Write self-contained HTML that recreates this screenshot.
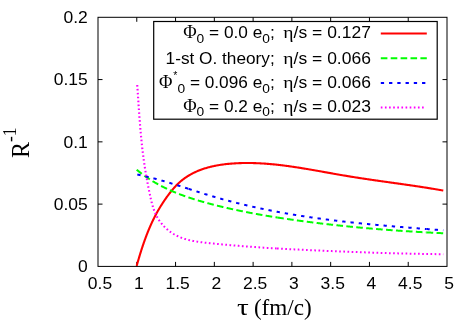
<!DOCTYPE html>
<html><head><meta charset="utf-8"><style>html,body{margin:0;padding:0;background:#fff;}body{width:463px;height:322px;overflow:hidden;position:relative;font-family:"Liberation Sans",sans-serif;}</style></head><body>
<svg width="463" height="322" viewBox="0 0 463 322" style="position:absolute;left:0;top:0;will-change:transform">
<rect width="463" height="322" fill="#fff"/>
<g stroke="#000" stroke-width="1" fill="none">
<rect x="98.0" y="17.3" width="349.0" height="249.1"/>
<path d="M136.78,266.4 v-4.5 M136.78,17.3 v4.5"/>
<path d="M175.56,266.4 v-4.5 M175.56,17.3 v4.5"/>
<path d="M214.33,266.4 v-4.5 M214.33,17.3 v4.5"/>
<path d="M253.11,266.4 v-4.5 M253.11,17.3 v4.5"/>
<path d="M291.89,266.4 v-4.5 M291.89,17.3 v4.5"/>
<path d="M330.67,266.4 v-4.5 M330.67,17.3 v4.5"/>
<path d="M369.44,266.4 v-4.5 M369.44,17.3 v4.5"/>
<path d="M408.22,266.4 v-4.5 M408.22,17.3 v4.5"/>
<path d="M98.0,204.12 h4.5 M447.0,204.12 h-4.5"/>
<path d="M98.0,141.85 h4.5 M447.0,141.85 h-4.5"/>
<path d="M98.0,79.57 h4.5 M447.0,79.57 h-4.5"/>
</g>
<path d="M136.68,265.83 L136.88,265.12 L137.08,264.41 L137.29,263.70 L137.49,262.99 L137.69,262.28 L137.90,261.57 L138.10,260.86 L138.31,260.16 L138.51,259.45 L138.72,258.74 L138.93,258.03 L139.14,257.33 L139.35,256.62 L139.56,255.92 L139.77,255.22 L139.99,254.51 L140.20,253.81 L140.42,253.11 L140.64,252.41 L140.86,251.71 L141.08,251.01 L141.30,250.31 L141.52,249.61 L141.75,248.91 L141.97,248.22 L142.20,247.52 L142.43,246.83 L142.66,246.13 L142.89,245.44 L143.12,244.75 L143.36,244.06 L143.60,243.36 L143.84,242.67 L144.08,241.99 L144.32,241.30 L144.56,240.61 L144.81,239.92 L145.06,239.24 L145.31,238.55 L145.56,237.87 L145.81,237.19 L146.07,236.51 L146.32,235.83 L146.58,235.15 L146.85,234.47 L147.11,233.79 L147.38,233.11 L147.64,232.44 L147.92,231.76 L148.19,231.09 L148.46,230.42 L148.74,229.75 L149.02,229.08 L149.30,228.41 L149.59,227.74 L149.87,227.08 L150.16,226.41 L150.46,225.75 L150.75,225.08 L151.05,224.42 L151.35,223.76 L151.65,223.10 L151.95,222.44 L152.26,221.79 L152.57,221.13 L152.89,220.48 L153.20,219.82 L153.52,219.17 L153.84,218.52 L154.17,217.87 L154.50,217.23 L154.83,216.58 L155.16,215.94 L155.50,215.29 L155.84,214.65 L156.18,214.01 L156.53,213.37 L156.88,212.73 L157.23,212.10 L157.58,211.46 L157.94,210.83 L158.30,210.20 L158.67,209.56 L159.04,208.94 L159.41,208.31 L159.79,207.68 L160.16,207.06 L160.55,206.43 L160.93,205.81 L161.32,205.19 L161.71,204.57 L162.11,203.95 L162.50,203.33 L162.91,202.71 L163.31,202.10 L163.72,201.48 L164.13,200.87 L164.55,200.26 L164.97,199.65 L165.39,199.04 L165.82,198.43 L166.25,197.83 L166.68,197.22 L167.12,196.62 L167.56,196.01 L168.01,195.41 L168.46,194.81 L168.91,194.21 L169.37,193.61 L169.83,193.02 L170.29,192.42 L170.76,191.83 L171.23,191.24 L171.70,190.65 L172.18,190.07 L172.67,189.49 L173.16,188.92 L173.65,188.35 L174.15,187.79 L174.65,187.23 L175.15,186.67 L175.66,186.13 L176.18,185.59 L176.70,185.05 L177.22,184.53 L177.75,184.01 L178.28,183.49 L178.82,182.99 L179.36,182.50 L179.91,182.01 L180.46,181.53 L181.02,181.06 L181.58,180.60 L182.15,180.14 L182.72,179.69 L183.29,179.25 L183.87,178.82 L184.46,178.39 L185.04,177.97 L185.64,177.56 L186.23,177.16 L186.83,176.76 L187.43,176.38 L188.04,175.99 L188.65,175.62 L189.27,175.25 L189.89,174.89 L190.51,174.54 L191.13,174.19 L191.76,173.85 L192.40,173.52 L193.03,173.19 L193.67,172.87 L194.32,172.55 L194.96,172.25 L195.61,171.95 L196.26,171.65 L196.92,171.36 L197.58,171.08 L198.24,170.80 L198.91,170.53 L199.57,170.27 L200.24,170.01 L200.92,169.76 L201.59,169.51 L202.27,169.27 L202.95,169.04 L203.63,168.81 L204.32,168.58 L205.01,168.37 L205.70,168.15 L206.39,167.94 L207.09,167.74 L207.78,167.55 L208.48,167.35 L209.18,167.17 L209.89,166.99 L210.59,166.81 L211.30,166.64 L212.01,166.47 L212.72,166.31 L213.43,166.15 L214.14,166.00 L214.86,165.85 L215.58,165.71 L216.29,165.57 L217.01,165.43 L217.74,165.31 L218.46,165.18 L219.18,165.06 L219.91,164.94 L220.63,164.83 L221.36,164.72 L222.09,164.61 L222.82,164.51 L223.55,164.42 L224.28,164.32 L225.01,164.23 L225.74,164.15 L226.47,164.06 L227.21,163.99 L227.94,163.91 L228.68,163.84 L229.41,163.77 L230.15,163.71 L230.88,163.64 L231.62,163.59 L232.35,163.53 L233.09,163.48 L233.82,163.43 L234.56,163.38 L235.30,163.34 L236.03,163.30 L236.77,163.26 L237.50,163.23 L238.24,163.19 L238.97,163.16 L239.71,163.14 L240.44,163.11 L241.18,163.09 L241.91,163.07 L242.65,163.05 L243.38,163.04 L244.12,163.03 L244.85,163.02 L245.58,163.01 L246.32,163.01 L247.05,163.00 L247.78,163.00 L248.51,163.01 L249.25,163.01 L249.98,163.02 L250.71,163.03 L251.44,163.04 L252.17,163.05 L252.90,163.07 L253.64,163.09 L254.37,163.11 L255.10,163.13 L255.83,163.16 L256.56,163.19 L257.29,163.21 L258.02,163.25 L258.75,163.28 L259.48,163.31 L260.21,163.35 L260.94,163.39 L261.67,163.43 L262.40,163.48 L263.13,163.52 L263.86,163.57 L264.58,163.62 L265.31,163.67 L266.04,163.72 L266.77,163.78 L267.50,163.83 L268.23,163.89 L268.95,163.95 L269.68,164.01 L270.41,164.08 L271.14,164.14 L271.86,164.21 L272.59,164.28 L273.32,164.35 L274.04,164.42 L274.77,164.49 L275.50,164.57 L276.22,164.64 L276.95,164.72 L277.68,164.80 L278.40,164.88 L279.13,164.96 L279.86,165.05 L280.58,165.13 L281.31,165.22 L282.03,165.31 L282.76,165.40 L283.48,165.49 L284.21,165.58 L284.93,165.67 L285.66,165.77 L286.38,165.86 L287.11,165.96 L287.83,166.06 L288.56,166.16 L289.28,166.26 L290.01,166.36 L290.73,166.46 L291.45,166.56 L292.18,166.67 L292.90,166.77 L293.63,166.88 L294.35,166.99 L295.07,167.10 L295.80,167.21 L296.52,167.32 L297.24,167.43 L297.97,167.54 L298.69,167.65 L299.41,167.77 L300.14,167.88 L300.86,168.00 L301.58,168.11 L302.31,168.23 L303.03,168.35 L303.75,168.47 L304.48,168.59 L305.20,168.71 L305.92,168.83 L306.64,168.95 L307.37,169.07 L308.09,169.19 L308.81,169.31 L309.53,169.44 L310.26,169.56 L310.98,169.68 L311.70,169.81 L312.42,169.93 L313.15,170.06 L313.87,170.19 L314.59,170.31 L315.31,170.44 L316.03,170.57 L316.76,170.69 L317.48,170.82 L318.20,170.95 L318.92,171.08 L319.64,171.21 L320.37,171.33 L321.09,171.46 L321.81,171.59 L322.53,171.72 L323.25,171.85 L323.98,171.98 L324.70,172.11 L325.42,172.24 L326.14,172.37 L326.86,172.50 L327.58,172.62 L328.31,172.75 L329.03,172.88 L329.75,173.01 L330.47,173.14 L331.19,173.27 L331.92,173.40 L332.64,173.53 L333.36,173.66 L334.08,173.78 L334.80,173.91 L335.52,174.04 L336.25,174.17 L336.97,174.29 L337.69,174.42 L338.41,174.55 L339.13,174.67 L339.86,174.80 L340.58,174.92 L341.30,175.05 L342.02,175.17 L342.74,175.30 L343.47,175.42 L344.19,175.54 L344.91,175.66 L345.63,175.79 L346.35,175.91 L347.08,176.03 L347.80,176.15 L348.52,176.27 L349.24,176.39 L349.97,176.50 L350.69,176.62 L351.41,176.74 L352.13,176.85 L352.86,176.97 L353.58,177.08 L354.30,177.20 L355.02,177.31 L355.75,177.43 L356.47,177.54 L357.19,177.65 L357.91,177.76 L358.64,177.88 L359.36,177.99 L360.08,178.10 L360.81,178.21 L361.53,178.32 L362.25,178.43 L362.98,178.54 L363.70,178.65 L364.42,178.75 L365.14,178.86 L365.87,178.97 L366.59,179.08 L367.31,179.18 L368.04,179.29 L368.76,179.40 L369.48,179.50 L370.21,179.61 L370.93,179.71 L371.65,179.82 L372.38,179.92 L373.10,180.03 L373.82,180.13 L374.55,180.24 L375.27,180.34 L375.99,180.44 L376.72,180.55 L377.44,180.65 L378.16,180.75 L378.89,180.86 L379.61,180.96 L380.33,181.06 L381.06,181.17 L381.78,181.27 L382.51,181.37 L383.23,181.47 L383.95,181.57 L384.68,181.68 L385.40,181.78 L386.12,181.88 L386.85,181.98 L387.57,182.08 L388.30,182.18 L389.02,182.28 L389.74,182.39 L390.47,182.49 L391.19,182.59 L391.91,182.69 L392.64,182.79 L393.36,182.89 L394.09,183.00 L394.81,183.10 L395.53,183.20 L396.26,183.30 L396.98,183.40 L397.70,183.50 L398.43,183.61 L399.15,183.71 L399.88,183.81 L400.60,183.91 L401.32,184.01 L402.05,184.12 L402.77,184.22 L403.50,184.32 L404.22,184.43 L404.94,184.53 L405.67,184.63 L406.39,184.74 L407.12,184.84 L407.84,184.95 L408.56,185.05 L409.29,185.16 L410.01,185.26 L410.73,185.37 L411.46,185.47 L412.18,185.58 L412.91,185.68 L413.63,185.79 L414.35,185.90 L415.08,186.00 L415.80,186.11 L416.53,186.22 L417.25,186.33 L417.97,186.44 L418.70,186.55 L419.42,186.65 L420.14,186.76 L420.87,186.88 L421.59,186.99 L422.32,187.10 L423.04,187.21 L423.76,187.32 L424.49,187.43 L425.21,187.55 L425.93,187.66 L426.66,187.77 L427.38,187.89 L428.11,188.00 L428.83,188.12 L429.55,188.24 L430.28,188.35 L431.00,188.47 L431.72,188.59 L432.45,188.71 L433.17,188.83 L433.89,188.94 L434.62,189.07 L435.34,189.19 L436.06,189.31 L436.79,189.43 L437.51,189.55 L438.23,189.68 L438.96,189.80 L439.68,189.93 L440.40,190.05 L441.13,190.18 L441.85,190.30 L442.57,190.43 L443.30,190.56" fill="none" stroke="#ff0000" stroke-width="2.1" stroke-linejoin="round"/>
<g transform="scale(1.06,1)" fill="none" stroke-width="2">
<path d="M128.97,169.72 L129.26,169.98 L129.55,170.24 L129.85,170.50 L130.15,170.76 L130.44,171.01 L130.74,171.27 L131.04,171.52 L131.33,171.77 L131.63,172.02 L131.93,172.27 L132.23,172.52 L132.53,172.77 L132.83,173.01 L133.13,173.26 L133.43,173.50 L133.74,173.75 L134.04,173.99 L134.34,174.23 L134.65,174.47 L134.95,174.71 L135.26,174.94 L135.56,175.18 L135.87,175.41 L136.17,175.65 L136.48,175.88 L136.79,176.11 L137.10,176.34 L137.40,176.57 L137.71,176.80 L138.02,177.02 L138.33,177.25 L138.64,177.47 L138.95,177.70 L139.27,177.92 L139.58,178.14 L139.89,178.36 L140.20,178.58 L140.52,178.80 L140.83,179.02 L141.15,179.23 L141.46,179.45 L141.78,179.66 L142.09,179.87 L142.41,180.08 L142.73,180.30 L143.04,180.51 L143.36,180.71 L143.68,180.92 L144.00,181.13 L144.32,181.33 L144.64,181.54 L144.96,181.74 L145.28,181.94 L145.60,182.15 L145.92,182.35 L146.24,182.55 L146.57,182.74 L146.89,182.94 L147.21,183.14 L147.53,183.33 L147.86,183.53 L148.18,183.72 L148.51,183.91 L148.83,184.11 L149.16,184.30 L149.49,184.49 L149.81,184.68 L150.14,184.86 L150.47,185.05 L150.80,185.24 L151.12,185.42 L151.45,185.61 L151.78,185.79 L152.11,185.97 L152.44,186.15 L152.77,186.33 L153.10,186.51 L153.43,186.69 L153.77,186.87 L154.10,187.05 L154.43,187.22 L154.76,187.40 L155.10,187.57 L155.43,187.75 L155.76,187.92 L156.10,188.09 L156.43,188.26 L156.77,188.43 L157.10,188.60 L157.44,188.77 L157.77,188.94 L158.11,189.11 L158.45,189.27 L158.79,189.44 L159.12,189.60 L159.46,189.76 L159.80,189.93 L160.14,190.09 L160.48,190.25 L160.82,190.41 L161.16,190.57 L161.50,190.73 L161.84,190.89 L162.18,191.04 L162.52,191.20 L162.86,191.36 L163.20,191.51 L163.54,191.67 L163.88,191.82 L164.23,191.97 L164.57,192.12 L164.91,192.27 L165.26,192.42 L165.60,192.57 L165.94,192.72 L166.29,192.87 L166.63,193.02 L166.98,193.17 L167.32,193.31 L167.67,193.46 L168.02,193.60 L168.36,193.75 L168.71,193.89 L169.06,194.03 L169.40,194.17 L169.75,194.31 L170.10,194.46 L170.45,194.60 L170.79,194.73 L171.14,194.87 L171.49,195.01 L171.84,195.15 L172.19,195.29 L172.54,195.42 L172.89,195.56 L173.24,195.69 L173.59,195.83 L173.94,195.96 L174.29,196.09 L174.64,196.22 L174.99,196.36 L175.34,196.49 L175.70,196.62 L176.05,196.75 L176.40,196.88 L176.75,197.00 L177.10,197.13 L177.46,197.26 L177.81,197.39 L178.16,197.51 L178.52,197.64 L178.87,197.76 L179.23,197.89 L179.58,198.01 L179.93,198.14 L180.29,198.26 L180.64,198.38 L181.00,198.50 L181.35,198.63 L181.71,198.75 L182.06,198.87 L182.42,198.99 L182.78,199.11 L183.13,199.22 L183.49,199.34 L183.85,199.46 L184.20,199.58 L184.56,199.70 L184.92,199.81 L185.27,199.93 L185.63,200.04 L185.99,200.16 L186.35,200.27 L186.71,200.39 L187.06,200.50 L187.42,200.61 L187.78,200.73 L188.14,200.84 L188.50,200.95 L188.86,201.06 L189.22,201.17 L189.58,201.28 L189.93,201.39 L190.29,201.50 L190.65,201.61 L191.01,201.72 L191.37,201.83 L191.73,201.94 L192.09,202.04 L192.45,202.15 L192.81,202.26 L193.18,202.37 L193.54,202.47 L193.90,202.58 L194.26,202.68 L194.62,202.79 L194.98,202.89 L195.34,203.00 L195.70,203.10 L196.06,203.20 L196.43,203.31 L196.79,203.41 L197.15,203.51 L197.51,203.61 L197.87,203.72 L198.24,203.82 L198.60,203.92 L198.96,204.02 L199.32,204.12 L199.68,204.22 L200.05,204.32 L200.41,204.42 L200.77,204.52 L201.14,204.62 L201.50,204.72 L201.86,204.82 L202.22,204.92 L202.59,205.01 L202.95,205.11 L203.31,205.21 L203.68,205.31 L204.04,205.40 L204.40,205.50 L204.77,205.60 L205.13,205.69 L205.49,205.79 L205.86,205.88 L206.22,205.98 L206.59,206.07 L206.95,206.17 L207.31,206.26 L207.68,206.36 L208.04,206.45 L208.41,206.54 L208.77,206.64 L209.14,206.73 L209.50,206.82 L209.86,206.91 L210.23,207.00 L210.59,207.10 L210.96,207.19 L211.32,207.28 L211.69,207.37 L212.05,207.46 L212.42,207.55 L212.78,207.64 L213.15,207.73 L213.51,207.82 L213.88,207.91 L214.25,208.00 L214.61,208.09 L214.98,208.18 L215.34,208.26 L215.71,208.35 L216.07,208.44 L216.44,208.53 L216.80,208.61 L217.17,208.70 L217.54,208.79 L217.90,208.87 L218.27,208.96 L218.64,209.04 L219.00,209.13 L219.37,209.22 L219.73,209.30 L220.10,209.39 L220.47,209.47 L220.83,209.55 L221.20,209.64 L221.57,209.72 L221.93,209.81 L222.30,209.89 L222.67,209.97 L223.03,210.05 L223.40,210.14 L223.77,210.22 L224.14,210.30 L224.50,210.38 L224.87,210.46 L225.24,210.55 L225.60,210.63 L225.97,210.71 L226.34,210.79 L226.71,210.87 L227.07,210.95 L227.44,211.03 L227.81,211.11 L228.18,211.19 L228.54,211.27 L228.91,211.34 L229.28,211.42 L229.65,211.50 L230.02,211.58 L230.38,211.66 L230.75,211.74 L231.12,211.81 L231.49,211.89 L231.86,211.97 L232.22,212.04 L232.59,212.12 L232.96,212.20 L233.33,212.27 L233.70,212.35 L234.07,212.42 L234.43,212.50 L234.80,212.57 L235.17,212.65 L235.54,212.72 L235.91,212.80 L236.28,212.87 L236.65,212.95 L237.02,213.02 L237.38,213.09 L237.75,213.17 L238.12,213.24 L238.49,213.31 L238.86,213.39 L239.23,213.46 L239.60,213.53 L239.97,213.60 L240.34,213.68 L240.71,213.75 L241.07,213.82 L241.44,213.89 L241.81,213.96 L242.18,214.03 L242.55,214.10 L242.92,214.17 L243.29,214.25 L243.66,214.32 L244.03,214.39 L244.40,214.45 L244.77,214.52 L245.14,214.59 L245.51,214.66 L245.88,214.73 L246.25,214.80 L246.62,214.87 L246.99,214.94 L247.36,215.01 L247.73,215.07 L248.10,215.14 L248.47,215.21 L248.84,215.28 L249.21,215.34 L249.58,215.41 L249.95,215.48 L250.32,215.54 L250.69,215.61 L251.06,215.68 L251.43,215.74 L251.80,215.81 L252.17,215.87 L252.54,215.94 L252.91,216.01 L253.28,216.07 L253.65,216.14 L254.02,216.20 L254.39,216.27 L254.76,216.33 L255.13,216.39 L255.50,216.46 L255.87,216.52 L256.24,216.59 L256.61,216.65 L256.98,216.71 L257.35,216.78 L257.72,216.84 L258.09,216.90 L258.46,216.97 L258.83,217.03 L259.21,217.09 L259.58,217.15 L259.95,217.21 L260.32,217.28 L260.69,217.34 L261.06,217.40 L261.43,217.46 L261.51,217.47" stroke="#00ff00" stroke-dasharray="6.268 3.134" stroke-dashoffset="0.00"/>
<path d="M261.51,217.47 L261.80,217.52 L262.17,217.58 L262.54,217.65 L262.91,217.71 L263.28,217.77 L263.65,217.83 L264.02,217.89 L264.40,217.95 L264.77,218.01 L265.14,218.07 L265.51,218.13 L265.88,218.19 L266.25,218.25 L266.62,218.31 L266.99,218.37 L267.36,218.42 L267.73,218.48 L268.10,218.54 L268.48,218.60 L268.85,218.66 L269.22,218.72 L269.59,218.78 L269.96,218.83 L270.33,218.89 L270.70,218.95 L271.07,219.01 L271.44,219.06 L271.81,219.12 L272.18,219.18 L272.56,219.24 L272.93,219.29 L273.30,219.35 L273.67,219.41 L274.04,219.46 L274.41,219.52 L274.78,219.58 L275.15,219.63 L275.52,219.69 L275.90,219.74 L276.27,219.80 L276.64,219.85 L277.01,219.91 L277.38,219.97 L277.75,220.02 L278.12,220.08 L278.49,220.13 L278.86,220.19 L279.23,220.24 L279.61,220.29 L279.98,220.35 L280.35,220.40 L280.72,220.46 L281.09,220.51 L281.46,220.57 L281.83,220.62 L282.20,220.67 L282.57,220.73 L282.95,220.78 L283.32,220.83 L283.69,220.89 L284.06,220.94 L284.43,220.99 L284.80,221.05 L285.17,221.10 L285.54,221.15 L285.91,221.20 L286.28,221.26 L286.66,221.31 L287.03,221.36 L287.40,221.41 L287.77,221.46 L288.14,221.52 L288.51,221.57 L288.88,221.62 L289.25,221.67 L289.62,221.72 L290.00,221.77 L290.37,221.82 L290.74,221.88 L291.11,221.93 L291.48,221.98 L291.85,222.03 L292.22,222.08 L292.59,222.13 L292.96,222.18 L293.34,222.23 L293.71,222.28 L294.08,222.33 L294.45,222.38 L294.82,222.43 L295.19,222.48 L295.56,222.53 L295.93,222.58 L296.31,222.63 L296.68,222.67 L297.05,222.72 L297.42,222.77 L297.79,222.82 L298.16,222.87 L298.53,222.92 L298.90,222.97 L299.27,223.01 L299.65,223.06 L300.02,223.11 L300.39,223.16 L300.76,223.21 L301.13,223.25 L301.50,223.30 L301.87,223.35 L302.24,223.39 L302.62,223.44 L302.99,223.49 L303.36,223.54 L303.73,223.58 L304.10,223.63 L304.47,223.68 L304.84,223.72 L305.21,223.77 L305.59,223.81 L305.96,223.86 L306.33,223.91 L306.70,223.95 L307.07,224.00 L307.44,224.04 L307.81,224.09 L308.19,224.13 L308.56,224.18 L308.93,224.23 L309.30,224.27 L309.67,224.32 L310.04,224.36 L310.41,224.40 L310.79,224.45 L311.16,224.49 L311.53,224.54 L311.90,224.58 L312.27,224.63 L312.64,224.67 L313.01,224.71 L313.39,224.76 L313.76,224.80 L314.13,224.85 L314.50,224.89 L314.87,224.93 L315.24,224.98 L315.61,225.02 L315.99,225.06 L316.36,225.11 L316.73,225.15 L317.10,225.19 L317.47,225.23 L317.84,225.28 L318.21,225.32 L318.59,225.36 L318.96,225.40 L319.33,225.44 L319.70,225.49 L320.07,225.53 L320.44,225.57 L320.82,225.61 L321.19,225.65 L321.56,225.69 L321.93,225.74 L322.30,225.78 L322.67,225.82 L323.05,225.86 L323.42,225.90 L323.79,225.94 L324.16,225.98 L324.53,226.02 L324.90,226.06 L325.28,226.10 L325.65,226.14 L326.02,226.18 L326.39,226.22 L326.76,226.26 L327.13,226.30 L327.51,226.34 L327.88,226.38 L328.25,226.42 L328.62,226.46 L328.99,226.50 L329.36,226.54 L329.74,226.58 L330.11,226.62 L330.48,226.66 L330.85,226.70 L331.22,226.73 L331.60,226.77 L331.97,226.81 L332.34,226.85 L332.71,226.89 L333.08,226.93 L333.46,226.96 L333.83,227.00 L334.20,227.04 L334.57,227.08 L334.94,227.12 L335.32,227.15 L335.69,227.19 L336.06,227.23 L336.43,227.26 L336.80,227.30 L337.18,227.34 L337.55,227.38 L337.92,227.41 L338.29,227.45 L338.66,227.49 L339.04,227.52 L339.41,227.56 L339.78,227.60 L340.15,227.63 L340.52,227.67 L340.90,227.70 L341.27,227.74 L341.64,227.78 L342.01,227.81 L342.39,227.85 L342.76,227.88 L343.13,227.92 L343.50,227.95 L343.87,227.99 L344.25,228.02 L344.62,228.06 L344.99,228.09 L345.36,228.13 L345.74,228.16 L346.11,228.20 L346.48,228.23 L346.85,228.27 L347.22,228.30 L347.60,228.33 L347.97,228.37 L348.34,228.40 L348.71,228.44 L349.09,228.47 L349.46,228.50 L349.83,228.54 L350.20,228.57 L350.58,228.61 L350.95,228.64 L351.32,228.67 L351.69,228.71 L352.07,228.74 L352.44,228.77 L352.81,228.80 L353.18,228.84 L353.56,228.87 L353.93,228.90 L354.30,228.93 L354.67,228.97 L355.05,229.00 L355.42,229.03 L355.79,229.06 L356.17,229.10 L356.54,229.13 L356.91,229.16 L357.28,229.19 L357.66,229.22 L358.03,229.25 L358.40,229.29 L358.77,229.32 L359.15,229.35 L359.52,229.38 L359.89,229.41 L360.27,229.44 L360.64,229.47 L361.01,229.50 L361.38,229.54 L361.76,229.57 L362.13,229.60 L362.50,229.63 L362.88,229.66 L363.25,229.69 L363.62,229.72 L363.99,229.75 L364.37,229.78 L364.74,229.81 L365.11,229.84 L365.49,229.87 L365.86,229.90 L366.23,229.93 L366.61,229.96 L366.98,229.99 L367.35,230.02 L367.73,230.04 L368.10,230.07 L368.47,230.10 L368.85,230.13 L369.22,230.16 L369.59,230.19 L369.96,230.22 L370.34,230.25 L370.71,230.28 L371.08,230.30 L371.46,230.33 L371.83,230.36 L372.20,230.39 L372.58,230.42 L372.95,230.44 L373.32,230.47 L373.70,230.50 L374.07,230.53 L374.44,230.56 L374.82,230.58 L375.19,230.61 L375.57,230.64 L375.94,230.67 L376.31,230.69 L376.69,230.72 L377.06,230.75 L377.43,230.77 L377.81,230.80 L378.18,230.83 L378.55,230.85 L378.93,230.88 L379.30,230.91 L379.68,230.93 L380.05,230.96 L380.42,230.99 L380.80,231.01 L381.17,231.04 L381.54,231.07 L381.92,231.09 L382.29,231.12 L382.67,231.14 L383.04,231.17 L383.41,231.20 L383.79,231.22 L384.16,231.25 L384.53,231.27 L384.91,231.30 L385.28,231.32 L385.66,231.35 L386.03,231.37 L386.40,231.40 L386.78,231.42 L387.15,231.45 L387.53,231.47 L387.90,231.50 L388.28,231.52 L388.65,231.55 L389.02,231.57 L389.40,231.59 L389.77,231.62 L390.15,231.64 L390.52,231.67 L390.89,231.69 L391.27,231.72 L391.64,231.74 L392.02,231.76 L392.39,231.79 L392.77,231.81 L393.14,231.83 L393.52,231.86 L393.89,231.88 L394.26,231.90 L394.64,231.93 L395.01,231.95 L395.39,231.97 L395.76,232.00 L396.14,232.02 L396.51,232.04 L396.89,232.07 L397.26,232.09 L397.64,232.11 L398.01,232.13 L398.38,232.16 L398.76,232.18 L399.13,232.20 L399.51,232.22 L399.88,232.25 L400.26,232.27 L400.63,232.29 L401.01,232.31 L401.38,232.33 L401.76,232.36 L402.13,232.38 L402.45,232.40" stroke="#00ff00" stroke-dasharray="6.268 3.134" stroke-dashoffset="0.00"/>
<path d="M402.45,232.40 L402.51,232.40 L402.88,232.42 L403.26,232.44 L403.63,232.46 L404.01,232.49 L404.38,232.51 L404.76,232.53 L405.13,232.55 L405.51,232.57 L405.88,232.59 L406.26,232.61 L406.63,232.63 L407.01,232.65 L407.38,232.68 L407.76,232.70 L408.13,232.72 L408.51,232.74 L408.88,232.76 L409.26,232.78 L409.63,232.80 L410.01,232.82 L410.39,232.84 L410.76,232.86 L411.14,232.88 L411.51,232.90 L411.89,232.92 L412.26,232.94 L412.64,232.96 L413.01,232.98 L413.39,233.00 L413.77,233.02 L414.14,233.04 L414.52,233.06 L414.89,233.08 L415.27,233.10 L415.64,233.12 L416.02,233.13 L416.40,233.15 L416.77,233.17 L417.15,233.19 L417.52,233.21 L417.90,233.23 L418.27,233.25" stroke="#00ff00" stroke-dasharray="6.268 3.134" stroke-dashoffset="0.00"/>
<path d="M129.54,174.54 L129.90,174.61 L130.26,174.69 L130.62,174.77 L130.98,174.85 L131.34,174.93 L131.70,175.01 L132.06,175.09 L132.41,175.17 L132.77,175.25 L133.13,175.33 L133.49,175.41 L133.85,175.50 L134.21,175.58 L134.57,175.66 L134.92,175.75 L135.28,175.83 L135.64,175.92 L136.00,176.01 L136.35,176.09 L136.71,176.18 L137.07,176.27 L137.43,176.36 L137.78,176.44 L138.14,176.53 L138.50,176.62 L138.85,176.71 L139.21,176.81 L139.57,176.90 L139.92,176.99 L140.28,177.08 L140.64,177.17 L140.99,177.27 L141.35,177.36 L141.70,177.46 L142.06,177.55 L142.42,177.65 L142.77,177.74 L143.13,177.84 L143.48,177.94 L143.84,178.03 L144.19,178.13 L144.55,178.23 L144.90,178.33 L145.26,178.43 L145.61,178.53 L145.97,178.62 L146.32,178.73 L146.68,178.83 L147.03,178.93 L147.39,179.03 L147.74,179.13 L148.09,179.23 L148.45,179.33 L148.80,179.44 L149.16,179.54 L149.51,179.64 L149.87,179.75 L150.22,179.85 L150.57,179.96 L150.93,180.06 L151.28,180.17 L151.63,180.27 L151.99,180.38 L152.34,180.49 L152.69,180.59 L153.05,180.70 L153.40,180.81 L153.75,180.92 L154.11,181.03 L154.46,181.13 L154.81,181.24 L155.17,181.35 L155.52,181.46 L155.87,181.57 L156.22,181.68 L156.58,181.79 L156.93,181.90 L157.28,182.01 L157.64,182.12 L157.99,182.24 L158.34,182.35 L158.69,182.46 L159.04,182.57 L159.40,182.68 L159.75,182.80 L160.10,182.91 L160.45,183.02 L160.81,183.14 L161.16,183.25 L161.51,183.36 L161.86,183.48 L162.21,183.59 L162.57,183.71 L162.92,183.82 L163.27,183.94 L163.62,184.05 L163.97,184.17 L164.32,184.28 L164.68,184.40 L165.03,184.51 L165.38,184.63 L165.73,184.75 L166.08,184.86 L166.43,184.98 L166.79,185.09 L167.14,185.21 L167.49,185.33 L167.84,185.45 L168.19,185.56 L168.54,185.68 L168.89,185.80 L169.25,185.92 L169.60,186.03 L169.95,186.15 L170.30,186.27 L170.65,186.39 L171.00,186.51 L171.35,186.62 L171.70,186.74 L172.06,186.86 L172.41,186.98 L172.76,187.10 L173.11,187.22 L173.46,187.34 L173.81,187.45 L174.16,187.57 L174.51,187.69 L174.86,187.81 L175.22,187.93 L175.57,188.05 L175.92,188.17 L176.27,188.29 L176.62,188.41 L176.97,188.53 L177.32,188.65 L177.67,188.76 L177.92,188.85" stroke="#0000ff" stroke-dasharray="3.134 4.701" stroke-dashoffset="0.00"/>
<path d="M177.92,188.85 L178.03,188.88 L178.38,189.00 L178.73,189.12 L179.08,189.24 L179.43,189.36 L179.78,189.48 L180.13,189.60 L180.48,189.72 L180.83,189.84 L181.19,189.96 L181.54,190.08 L181.89,190.20 L182.24,190.32 L182.59,190.43 L182.94,190.55 L183.29,190.67 L183.65,190.79 L184.00,190.91 L184.35,191.03 L184.70,191.15 L185.05,191.27 L185.40,191.39 L185.75,191.50 L186.11,191.62 L186.46,191.74 L186.81,191.86 L187.16,191.98 L187.51,192.10 L187.86,192.21 L188.22,192.33 L188.57,192.45 L188.92,192.57 L189.27,192.68 L189.62,192.80 L189.97,192.92 L190.33,193.04 L190.68,193.15 L191.03,193.27 L191.38,193.39 L191.73,193.50 L192.09,193.62 L192.44,193.73 L192.79,193.85 L193.14,193.97 L193.50,194.08 L193.85,194.20 L194.20,194.31 L194.55,194.43 L194.91,194.54 L195.26,194.66 L195.61,194.77 L195.96,194.88 L196.32,195.00 L196.67,195.11 L197.02,195.23 L197.37,195.34 L197.73,195.45 L198.08,195.56 L198.43,195.68 L198.79,195.79 L199.14,195.90 L199.49,196.01 L199.85,196.12 L200.20,196.24 L200.55,196.35 L200.91,196.46 L201.26,196.57 L201.61,196.68 L201.97,196.79 L202.32,196.90 L202.68,197.01 L203.03,197.12 L203.38,197.23 L203.74,197.33 L204.09,197.44 L204.45,197.55 L204.80,197.66 L205.16,197.77 L205.51,197.87 L205.86,197.98 L206.22,198.09 L206.57,198.19 L206.93,198.30 L207.28,198.41 L207.64,198.51 L207.99,198.62 L208.35,198.72 L208.70,198.83 L209.06,198.93 L209.41,199.04 L209.77,199.14 L210.12,199.25 L210.48,199.35 L210.83,199.45 L211.19,199.56 L211.54,199.66 L211.90,199.76 L212.26,199.87 L212.61,199.97 L212.97,200.07 L213.32,200.17 L213.68,200.28 L214.03,200.38 L214.39,200.48 L214.75,200.58 L215.10,200.68 L215.46,200.78 L215.81,200.88 L216.17,200.98 L216.53,201.08 L216.88,201.18 L217.24,201.28 L217.60,201.38 L217.95,201.48 L218.31,201.58 L218.67,201.67 L219.02,201.77 L219.38,201.87 L219.74,201.97 L220.09,202.06 L220.45,202.16 L220.81,202.26 L221.16,202.36 L221.52,202.45 L221.88,202.55 L222.23,202.64 L222.59,202.74 L222.95,202.84 L223.31,202.93 L223.66,203.03 L224.02,203.12 L224.38,203.21 L224.74,203.31 L225.09,203.40 L225.45,203.50 L225.81,203.59 L226.17,203.68 L226.52,203.78 L226.88,203.87 L227.24,203.96 L227.60,204.06 L227.96,204.15 L228.31,204.24 L228.67,204.33 L229.03,204.42 L229.39,204.51 L229.75,204.61 L230.11,204.70 L230.46,204.79 L230.82,204.88 L231.18,204.97 L231.54,205.06 L231.90,205.15 L232.26,205.24 L232.62,205.33 L232.97,205.41 L233.33,205.50 L233.69,205.59 L234.05,205.68 L234.41,205.77 L234.77,205.86 L235.13,205.94 L235.49,206.03 L235.85,206.12 L236.20,206.21 L236.56,206.29 L236.92,206.38 L237.28,206.47 L237.64,206.55 L238.00,206.64 L238.36,206.72 L238.72,206.81 L239.08,206.89 L239.44,206.98 L239.80,207.06 L240.16,207.15 L240.52,207.23 L240.88,207.32 L241.24,207.40 L241.60,207.48 L241.96,207.57 L242.32,207.65 L242.68,207.73 L243.04,207.82 L243.40,207.90 L243.76,207.98 L244.12,208.06 L244.48,208.15 L244.84,208.23 L245.20,208.31 L245.56,208.39 L245.92,208.47 L246.28,208.55 L246.64,208.63 L247.00,208.71 L247.36,208.79 L247.72,208.87 L248.08,208.95 L248.44,209.03 L248.81,209.11 L249.17,209.19 L249.53,209.27 L249.89,209.35 L250.25,209.43 L250.61,209.51 L250.97,209.58 L251.33,209.66 L251.69,209.74 L252.05,209.82 L252.42,209.89 L252.78,209.97 L253.14,210.05 L253.50,210.13 L253.86,210.20 L254.22,210.28 L254.58,210.35 L254.94,210.43 L255.31,210.51 L255.67,210.58 L256.03,210.66 L256.39,210.73 L256.75,210.81 L257.11,210.88 L257.48,210.95 L257.84,211.03 L258.20,211.10 L258.56,211.18 L258.92,211.25 L259.29,211.32 L259.65,211.40 L260.01,211.47 L260.37,211.54 L260.73,211.61 L261.10,211.69 L261.46,211.76 L261.82,211.83 L262.18,211.90 L262.54,211.97 L262.91,212.05 L263.27,212.12 L263.63,212.19 L263.99,212.26 L264.36,212.33 L264.72,212.40 L265.08,212.47 L265.44,212.54 L265.81,212.61 L266.17,212.68 L266.53,212.75 L266.90,212.82 L267.26,212.89 L267.62,212.96 L267.98,213.02 L268.35,213.09 L268.71,213.16 L269.07,213.23 L269.44,213.30 L269.80,213.36 L270.16,213.43 L270.52,213.50 L270.89,213.57 L271.25,213.63 L271.61,213.70 L271.98,213.77 L272.34,213.83 L272.70,213.90 L273.07,213.96 L273.43,214.03 L273.79,214.10 L274.16,214.16 L274.52,214.23 L274.88,214.29 L275.25,214.36 L275.61,214.42 L275.97,214.48 L276.34,214.55 L276.70,214.61 L277.06,214.68 L277.43,214.74 L277.79,214.80 L278.16,214.87 L278.52,214.93 L278.88,214.99 L279.25,215.06 L279.61,215.12 L279.97,215.18 L280.34,215.24 L280.70,215.31 L281.07,215.37 L281.43,215.43 L281.79,215.49 L282.16,215.55 L282.52,215.61 L282.89,215.67 L283.25,215.73 L283.62,215.79 L283.98,215.86 L284.34,215.92 L284.71,215.98 L285.07,216.04 L285.44,216.10 L285.80,216.15 L286.16,216.21 L286.53,216.27 L286.89,216.33 L287.26,216.39 L287.62,216.45 L287.99,216.51 L288.35,216.57 L288.72,216.62 L289.08,216.68 L289.45,216.74 L289.81,216.80 L290.17,216.86 L290.54,216.91 L290.90,216.97 L291.27,217.03 L291.63,217.08 L292.00,217.14 L292.36,217.20 L292.73,217.25 L293.09,217.31 L293.46,217.37 L293.82,217.42 L294.19,217.48 L294.55,217.53 L294.92,217.59 L295.28,217.64 L295.65,217.70 L296.01,217.75 L296.38,217.81 L296.74,217.86 L297.11,217.92 L297.47,217.97 L297.84,218.03 L298.20,218.08 L298.57,218.13 L298.93,218.19 L299.30,218.24 L299.66,218.29 L300.03,218.35 L300.39,218.40 L300.76,218.45 L301.13,218.50 L301.49,218.56 L301.86,218.61 L302.22,218.66 L302.59,218.71 L302.95,218.77 L303.32,218.82 L303.68,218.87 L304.05,218.92 L304.41,218.97 L304.78,219.02 L305.15,219.07 L305.51,219.13 L305.88,219.18 L306.24,219.23 L306.61,219.28 L306.97,219.33 L307.34,219.38 L307.71,219.43 L308.07,219.48 L308.44,219.53 L308.80,219.58 L309.17,219.63 L309.53,219.68 L309.90,219.73 L310.27,219.77 L310.63,219.82 L311.00,219.87 L311.36,219.92 L311.73,219.97 L312.10,220.02 L312.46,220.07 L312.83,220.11 L313.19,220.16 L313.56,220.21 L313.93,220.26 L314.29,220.30 L314.66,220.35 L315.03,220.40 L315.39,220.45 L315.76,220.49 L316.12,220.54 L316.49,220.59 L316.86,220.63 L317.22,220.68 L317.59,220.73 L317.95,220.77 L318.32,220.82 L318.69,220.87 L319.05,220.91 L319.42,220.96 L319.79,221.00 L320.15,221.05 L320.52,221.09 L320.89,221.14 L321.25,221.18 L321.62,221.23 L321.98,221.27 L322.35,221.32 L322.72,221.36 L323.08,221.41 L323.45,221.45 L323.82,221.50 L324.18,221.54 L324.55,221.58 L324.92,221.63 L325.28,221.67 L325.65,221.72 L326.02,221.76 L326.38,221.80 L326.75,221.85 L327.12,221.89 L327.48,221.93 L327.85,221.97 L328.22,222.02 L328.58,222.06 L328.95,222.10 L329.32,222.15 L329.68,222.19 L330.05,222.23 L330.42,222.27 L330.78,222.31 L331.15,222.36 L331.52,222.40 L331.88,222.44 L332.25,222.48 L332.62,222.52 L332.99,222.56 L333.35,222.61 L333.72,222.65 L334.09,222.69 L334.45,222.73 L334.82,222.77 L335.19,222.81 L335.55,222.85 L335.92,222.89 L336.29,222.93 L336.65,222.97 L337.02,223.01 L337.39,223.05 L337.76,223.09 L338.12,223.13 L338.49,223.17 L338.86,223.21 L339.22,223.25 L339.59,223.29 L339.96,223.33 L340.32,223.37 L340.69,223.41 L341.06,223.45 L341.43,223.49 L341.79,223.53 L342.16,223.57 L342.53,223.60 L342.89,223.64 L343.26,223.68 L343.63,223.72 L344.00,223.76 L344.36,223.80 L344.73,223.83 L345.10,223.87 L345.46,223.91 L345.83,223.95 L346.20,223.99 L346.57,224.02 L346.93,224.06 L347.30,224.10 L347.67,224.14 L348.04,224.17 L348.40,224.21 L348.77,224.25 L349.14,224.29 L349.50,224.32 L349.87,224.36 L350.24,224.40 L350.61,224.43 L350.97,224.47 L351.34,224.51 L351.71,224.54 L352.08,224.58 L352.44,224.62 L352.81,224.65 L353.18,224.69 L353.55,224.73 L353.91,224.76 L354.28,224.80 L354.65,224.83 L355.01,224.87 L355.38,224.91 L355.75,224.94 L356.12,224.98 L356.48,225.01 L356.85,225.05 L357.22,225.08 L357.59,225.12 L357.95,225.15 L358.32,225.19 L358.69,225.22 L359.06,225.26 L359.42,225.29 L359.79,225.33 L360.16,225.36 L360.53,225.40 L360.89,225.43 L361.26,225.47 L361.63,225.50 L362.00,225.54 L362.36,225.57 L362.73,225.60 L363.10,225.64 L363.47,225.67 L363.83,225.71 L364.20,225.74 L364.57,225.78 L364.93,225.81 L365.30,225.84 L365.67,225.88 L366.04,225.91 L366.40,225.94 L366.77,225.98 L367.14,226.01 L367.51,226.05 L367.87,226.08 L368.24,226.11 L368.61,226.15 L368.98,226.18 L369.34,226.21 L369.71,226.25 L370.08,226.28 L370.45,226.31 L370.81,226.34 L371.18,226.38 L371.55,226.41 L371.92,226.44 L372.28,226.48 L372.65,226.51 L373.02,226.54 L373.39,226.57 L373.75,226.61 L374.12,226.64 L374.49,226.67 L374.86,226.70 L375.22,226.74 L375.59,226.77 L375.96,226.80 L376.33,226.83 L376.69,226.86 L377.06,226.90 L377.43,226.93 L377.80,226.96 L378.16,226.99 L378.53,227.02 L378.90,227.06 L379.27,227.09 L379.63,227.12 L380.00,227.15 L380.37,227.18 L380.73,227.22 L381.10,227.25 L381.47,227.28 L381.84,227.31 L382.20,227.34 L382.57,227.37 L382.94,227.40 L383.31,227.44 L383.67,227.47 L384.04,227.50 L384.41,227.53 L384.78,227.56 L385.14,227.59 L385.51,227.62 L385.88,227.65 L386.25,227.69 L386.61,227.72 L386.98,227.75 L387.35,227.78 L387.71,227.81 L388.08,227.84 L388.45,227.87 L388.82,227.90 L389.18,227.93 L389.55,227.96 L389.92,228.00 L390.29,228.03 L390.65,228.06 L391.02,228.09 L391.39,228.12 L391.75,228.15 L392.12,228.18 L392.49,228.21 L392.86,228.24 L393.22,228.27 L393.59,228.30 L393.96,228.33 L394.32,228.36 L394.69,228.39 L395.06,228.42 L395.43,228.45 L395.79,228.48 L396.16,228.51 L396.53,228.55 L396.89,228.58 L397.26,228.61 L397.63,228.64 L398.00,228.67 L398.36,228.70 L398.73,228.73 L399.10,228.76 L399.46,228.79 L399.83,228.82 L400.20,228.85 L400.57,228.88 L400.93,228.91 L401.30,228.94 L401.67,228.97 L402.03,229.00 L402.26,229.02" stroke="#0000ff" stroke-dasharray="3.134 4.701" stroke-dashoffset="0.00"/>
<path d="M402.26,229.02 L402.40,229.03 L402.77,229.06 L403.13,229.09 L403.50,229.12 L403.87,229.15 L404.24,229.18 L404.60,229.21 L404.97,229.24 L405.34,229.27 L405.70,229.30 L406.07,229.33 L406.44,229.36 L406.80,229.39 L407.17,229.42 L407.54,229.45 L407.90,229.48 L408.27,229.51 L408.64,229.54 L409.00,229.57 L409.37,229.60 L409.74,229.63 L410.10,229.66 L410.47,229.69 L410.84,229.72 L411.20,229.75 L411.57,229.78 L411.94,229.81 L412.30,229.84 L412.67,229.87 L413.04,229.90 L413.40,229.93 L413.77,229.96 L414.14,229.99 L414.50,230.02 L414.87,230.05 L415.24,230.08 L415.60,230.11 L415.97,230.14 L416.34,230.17 L416.70,230.20 L417.07,230.23 L417.44,230.26 L417.80,230.29 L418.17,230.32" stroke="#0000ff" stroke-dasharray="3.134 4.701" stroke-dashoffset="0.00"/>
<path d="M129.46,85.01 L129.50,85.55 L129.53,86.08 L129.57,86.61 L129.60,87.15 L129.64,87.68 L129.67,88.21 L129.71,88.75 L129.74,89.28 L129.78,89.81 L129.81,90.35 L129.84,90.88 L129.88,91.42 L129.91,91.95 L129.95,92.49 L129.98,93.02 L130.01,93.56 L130.05,94.09 L130.08,94.63 L130.12,95.16 L130.15,95.70 L130.18,96.23 L130.22,96.77 L130.25,97.30 L130.29,97.84 L130.32,98.38 L130.35,98.91 L130.39,99.45 L130.42,99.98 L130.46,100.52 L130.49,101.06 L130.52,101.59 L130.56,102.13 L130.59,102.67 L130.63,103.20 L130.66,103.74 L130.70,104.28 L130.73,104.82 L130.77,105.35 L130.80,105.89 L130.84,106.43 L130.87,106.96 L130.91,107.50 L130.94,108.04 L130.98,108.58 L131.01,109.11 L131.05,109.65 L131.08,110.19 L131.12,110.73 L131.15,111.26 L131.19,111.80 L131.23,112.34 L131.26,112.88 L131.30,113.41 L131.34,113.95 L131.37,114.49 L131.41,115.03 L131.45,115.57 L131.48,116.10 L131.52,116.64 L131.56,117.18 L131.60,117.72 L131.63,118.25 L131.67,118.79 L131.71,119.33 L131.75,119.87 L131.79,120.41 L131.83,120.94 L131.87,121.48 L131.91,122.02 L131.95,122.56 L131.99,123.09 L132.03,123.63 L132.07,124.17 L132.11,124.71 L132.15,125.24 L132.19,125.78 L132.23,126.32 L132.27,126.86 L132.32,127.39 L132.36,127.93 L132.40,128.47 L132.45,129.01 L132.49,129.54 L132.53,130.08 L132.58,130.62 L132.62,131.15 L132.67,131.69 L132.71,132.23 L132.76,132.76 L132.80,133.30 L132.85,133.84 L132.89,134.37 L132.94,134.91 L132.99,135.45 L133.03,135.98 L133.08,136.52 L133.13,137.05 L133.18,137.59 L133.23,138.13 L133.28,138.66 L133.33,139.20 L133.38,139.73 L133.43,140.27 L133.48,140.80 L133.53,141.34 L133.58,141.87 L133.63,142.41 L133.69,142.94 L133.74,143.48 L133.79,144.01 L133.85,144.54 L133.90,145.08 L133.96,145.61 L134.01,146.15 L134.07,146.68 L134.12,147.21 L134.18,147.75 L134.24,148.28 L134.29,148.81 L134.35,149.35 L134.41,149.88 L134.47,150.41 L134.53,150.94 L134.59,151.47 L134.65,152.01 L134.71,152.54 L134.77,153.07 L134.83,153.60 L134.90,154.13 L134.96,154.66 L135.02,155.19 L135.09,155.72 L135.15,156.25 L135.22,156.78 L135.28,157.31 L135.35,157.84 L135.42,158.37 L135.48,158.90 L135.55,159.43 L135.62,159.96 L135.69,160.49 L135.76,161.02 L135.83,161.55 L135.90,162.07 L135.97,162.60 L136.05,163.13 L136.12,163.66 L136.19,164.18 L136.27,164.71 L136.34,165.24 L136.42,165.77 L136.49,166.29 L136.57,166.82 L136.65,167.35 L136.72,167.87 L136.80,168.40 L136.88,168.92 L136.96,169.45 L137.04,169.98 L137.12,170.50 L137.20,171.03 L137.28,171.56 L137.36,172.08 L137.45,172.61 L137.53,173.13 L137.61,173.66 L137.70,174.19 L137.78,174.71 L137.87,175.24 L137.96,175.77 L138.04,176.29 L138.13,176.82 L138.22,177.35 L138.31,177.87 L138.40,178.40 L138.49,178.93 L138.58,179.45 L138.67,179.98 L138.76,180.51 L138.85,181.04 L138.95,181.57 L139.04,182.09 L139.13,182.62 L139.23,183.15 L139.32,183.68 L139.42,184.21 L139.51,184.74 L139.61,185.27 L139.71,185.80 L139.81,186.33 L139.91,186.86 L140.01,187.39 L140.10,187.92 L140.21,188.45 L140.31,188.98 L140.41,189.51 L140.51,190.05 L140.61,190.58 L140.72,191.11 L140.82,191.64 L140.93,192.18 L141.03,192.71 L141.14,193.25 L141.24,193.78 L141.35,194.32 L141.46,194.85 L141.56,195.39 L141.67,195.93 L141.78,196.46 L141.89,197.00 L142.01,197.54 L142.12,198.08 L142.23,198.61 L142.35,199.15 L142.46,199.69 L142.58,200.22 L142.70,200.76 L142.83,201.29 L142.95,201.83 L143.08,202.36 L143.21,202.90 L143.34,203.43 L143.47,203.96 L143.61,204.49 L143.75,205.02 L143.89,205.54 L144.04,206.07 L144.19,206.59 L144.34,207.11 L144.49,207.63 L144.65,208.15 L144.81,208.67 L144.98,209.18 L145.15,209.70 L145.33,210.21 L145.51,210.71 L145.69,211.22 L145.88,211.72 L146.07,212.22 L146.26,212.72 L146.47,213.21 L146.67,213.71 L146.88,214.20 L147.10,214.68 L147.32,215.16 L147.55,215.64 L147.78,216.12 L148.02,216.59 L148.27,217.06 L148.51,217.52 L148.77,217.99 L149.03,218.44 L149.29,218.90 L149.56,219.35 L149.83,219.80 L150.11,220.24 L150.39,220.68 L150.68,221.12 L150.97,221.55 L151.27,221.98 L151.57,222.40 L151.87,222.83 L152.18,223.24 L152.50,223.65 L152.82,224.06 L153.14,224.47 L153.47,224.87 L153.80,225.27 L154.14,225.66 L154.48,226.05 L154.82,226.43 L155.17,226.81 L155.52,227.18 L155.88,227.55 L156.24,227.92 L156.60,228.28 L156.97,228.64 L157.34,228.99 L157.71,229.34 L158.09,229.68 L158.47,230.02 L158.86,230.36 L159.24,230.69 L159.64,231.01 L160.03,231.33 L160.43,231.64 L160.83,231.95 L161.24,232.26 L161.64,232.56 L162.05,232.85 L162.47,233.14 L162.89,233.43 L163.30,233.71 L163.73,233.98 L164.15,234.25 L164.58,234.51 L165.01,234.77 L165.45,235.02 L165.88,235.27 L166.32,235.51 L166.76,235.75 L167.20,235.98 L167.65,236.21 L168.10,236.43 L168.55,236.64 L169.00,236.85 L169.46,237.06 L169.91,237.26 L170.37,237.45 L170.83,237.64 L171.30,237.83 L171.76,238.01 L172.23,238.19 L172.70,238.36 L173.17,238.53 L173.65,238.69 L174.12,238.85 L174.60,239.00 L175.08,239.16 L175.56,239.30 L176.04,239.45 L176.52,239.59 L177.01,239.72 L177.49,239.85 L177.98,239.98 L178.47,240.11 L178.96,240.23 L179.45,240.35 L179.95,240.47 L180.44,240.58 L180.94,240.69 L181.43,240.79 L181.93,240.90 L182.43,241.00 L182.93,241.10 L183.43,241.19 L183.94,241.29 L184.44,241.38 L184.94,241.47 L185.45,241.55 L185.96,241.64 L186.46,241.72 L186.97,241.80 L187.48,241.88 L187.99,241.95 L188.50,242.03 L189.01,242.10 L189.52,242.17 L190.03,242.24 L190.54,242.31 L191.05,242.38 L191.56,242.44 L192.08,242.51 L192.59,242.57 L193.10,242.63 L193.61,242.69 L194.13,242.75 L194.64,242.81 L195.15,242.87 L195.67,242.93 L196.18,242.99 L196.69,243.05 L197.21,243.11 L197.72,243.16 L198.23,243.22 L198.75,243.28 L199.26,243.33 L199.77,243.39 L200.28,243.44 L200.80,243.50 L201.31,243.56 L201.82,243.61 L202.33,243.66 L202.84,243.72 L203.36,243.77 L203.87,243.83 L204.38,243.88 L204.89,243.93 L205.40,243.99 L205.91,244.04 L206.42,244.09 L206.94,244.14 L207.45,244.20 L207.96,244.25 L208.47,244.30 L208.98,244.35 L209.49,244.40 L210.00,244.45 L210.51,244.50 L211.02,244.55 L211.53,244.60 L212.04,244.65 L212.55,244.70 L213.06,244.75 L213.57,244.80 L214.08,244.85 L214.59,244.90 L215.10,244.95 L215.61,244.99 L216.11,245.04 L216.62,245.09 L217.13,245.14 L217.64,245.18 L218.15,245.23 L218.66,245.28 L219.17,245.32 L219.68,245.37 L220.18,245.41 L220.69,245.46 L221.20,245.51 L221.71,245.55 L222.22,245.60 L222.72,245.64 L223.23,245.68 L223.74,245.73 L224.25,245.77 L224.75,245.82 L225.26,245.86 L225.77,245.90 L226.28,245.95 L226.78,245.99 L227.29,246.03 L227.80,246.07 L228.31,246.12 L228.81,246.16 L229.32,246.20 L229.83,246.24 L230.33,246.28 L230.84,246.32 L231.35,246.37 L231.85,246.41 L232.36,246.45 L232.87,246.49 L233.37,246.53 L233.88,246.57 L234.39,246.61 L234.89,246.65 L235.40,246.69 L235.90,246.72 L236.41,246.76 L236.92,246.80 L237.42,246.84 L237.93,246.88 L238.43,246.92 L238.94,246.95 L239.44,246.99 L239.95,247.03 L240.46,247.07 L240.96,247.10 L241.47,247.14 L241.97,247.18 L242.48,247.22 L242.98,247.25 L243.49,247.29 L243.99,247.32 L244.50,247.36 L245.00,247.40 L245.51,247.43 L246.01,247.47 L246.52,247.50 L247.02,247.54 L247.53,247.57 L248.03,247.61 L248.54,247.64 L249.04,247.68 L249.55,247.71 L250.05,247.74 L250.56,247.78 L251.06,247.81 L251.57,247.85 L252.07,247.88 L252.58,247.91 L253.08,247.95 L253.59,247.98 L254.09,248.01 L254.59,248.04 L255.10,248.08 L255.60,248.11 L256.11,248.14 L256.61,248.17 L257.12,248.20 L257.62,248.24 L258.12,248.27 L258.63,248.30 L259.13,248.33 L259.64,248.36 L260.14,248.39 L260.65,248.42 L261.15,248.45 L261.32,248.47" stroke="#ff00ff" stroke-dasharray="1.567 2.350" stroke-dashoffset="0.00"/>
<path d="M261.32,248.47 L261.65,248.49 L262.16,248.52 L262.66,248.55 L263.17,248.58 L263.67,248.61 L264.18,248.64 L264.68,248.67 L265.18,248.70 L265.69,248.73 L266.19,248.76 L266.70,248.78 L267.20,248.81 L267.70,248.84 L268.21,248.87 L268.71,248.90 L269.22,248.93 L269.72,248.96 L270.22,248.99 L270.73,249.01 L271.23,249.04 L271.74,249.07 L272.24,249.10 L272.75,249.13 L273.25,249.15 L273.75,249.18 L274.26,249.21 L274.76,249.24 L275.27,249.26 L275.77,249.29 L276.27,249.32 L276.78,249.35 L277.28,249.37 L277.79,249.40 L278.29,249.43 L278.80,249.45 L279.30,249.48 L279.80,249.51 L280.31,249.53 L280.81,249.56 L281.32,249.59 L281.82,249.61 L282.33,249.64 L282.83,249.66 L283.33,249.69 L283.84,249.72 L284.34,249.74 L284.85,249.77 L285.35,249.79 L285.86,249.82 L286.36,249.84 L286.87,249.87 L287.37,249.89 L287.88,249.92 L288.38,249.94 L288.89,249.97 L289.39,249.99 L289.90,250.02 L290.40,250.04 L290.91,250.07 L291.41,250.09 L291.92,250.12 L292.42,250.14 L292.93,250.17 L293.43,250.19 L293.94,250.22 L294.44,250.24 L294.95,250.26 L295.45,250.29 L295.96,250.31 L296.46,250.34 L296.97,250.36 L297.47,250.38 L297.98,250.41 L298.48,250.43 L298.99,250.46 L299.50,250.48 L300.00,250.50 L300.51,250.53 L301.01,250.55 L301.52,250.57 L302.03,250.60 L302.53,250.62 L303.04,250.64 L303.54,250.67 L304.05,250.69 L304.56,250.71 L305.06,250.74 L305.57,250.76 L306.08,250.78 L306.58,250.81 L307.09,250.83 L307.60,250.85 L308.10,250.88 L308.61,250.90 L309.12,250.92 L309.62,250.94 L310.13,250.97 L310.64,250.99 L311.14,251.01 L311.65,251.04 L312.16,251.06 L312.66,251.08 L313.17,251.10 L313.68,251.13 L314.19,251.15 L314.69,251.17 L315.20,251.19 L315.71,251.21 L316.21,251.24 L316.72,251.26 L317.23,251.28 L317.74,251.30 L318.24,251.33 L318.75,251.35 L319.26,251.37 L319.77,251.39 L320.27,251.41 L320.78,251.43 L321.29,251.46 L321.80,251.48 L322.31,251.50 L322.81,251.52 L323.32,251.54 L323.83,251.56 L324.34,251.58 L324.84,251.61 L325.35,251.63 L325.86,251.65 L326.37,251.67 L326.88,251.69 L327.38,251.71 L327.89,251.73 L328.40,251.75 L328.91,251.77 L329.42,251.79 L329.92,251.81 L330.43,251.84 L330.94,251.86 L331.45,251.88 L331.96,251.90 L332.47,251.92 L332.97,251.94 L333.48,251.96 L333.99,251.98 L334.50,252.00 L335.01,252.02 L335.52,252.04 L336.02,252.06 L336.53,252.08 L337.04,252.10 L337.55,252.12 L338.06,252.14 L338.57,252.16 L339.08,252.18 L339.58,252.20 L340.09,252.21 L340.60,252.23 L341.11,252.25 L341.62,252.27 L342.13,252.29 L342.63,252.31 L343.14,252.33 L343.65,252.35 L344.16,252.37 L344.67,252.39 L345.18,252.40 L345.69,252.42 L346.19,252.44 L346.70,252.46 L347.21,252.48 L347.72,252.50 L348.23,252.52 L348.74,252.53 L349.25,252.55 L349.75,252.57 L350.26,252.59 L350.77,252.61 L351.28,252.62 L351.79,252.64 L352.30,252.66 L352.81,252.68 L353.31,252.69 L353.82,252.71 L354.33,252.73 L354.84,252.75 L355.35,252.76 L355.86,252.78 L356.37,252.80 L356.87,252.81 L357.38,252.83 L357.89,252.85 L358.40,252.87 L358.91,252.88 L359.42,252.90 L359.93,252.92 L360.43,252.93 L360.94,252.95 L361.45,252.96 L361.96,252.98 L362.47,253.00 L362.98,253.01 L363.48,253.03 L363.99,253.04 L364.50,253.06 L365.01,253.08 L365.52,253.09 L366.03,253.11 L366.53,253.12 L367.04,253.14 L367.55,253.15 L368.06,253.17 L368.57,253.18 L369.07,253.20 L369.58,253.21 L370.09,253.23 L370.60,253.24 L371.11,253.26 L371.61,253.27 L372.12,253.29 L372.63,253.30 L373.14,253.32 L373.65,253.33 L374.15,253.35 L374.66,253.36 L375.17,253.37 L375.68,253.39 L376.18,253.40 L376.69,253.42 L377.20,253.43 L377.71,253.44 L378.21,253.46 L378.72,253.47 L379.23,253.48 L379.74,253.50 L380.24,253.51 L380.75,253.52 L381.26,253.54 L381.77,253.55 L382.27,253.56 L382.78,253.57 L383.29,253.59 L383.80,253.60 L384.30,253.61 L384.81,253.62 L385.32,253.64 L385.82,253.65 L386.33,253.66 L386.84,253.67 L387.34,253.68 L387.85,253.70 L388.36,253.71 L388.86,253.72 L389.37,253.73 L389.88,253.74 L390.38,253.75 L390.89,253.77 L391.40,253.78 L391.90,253.79 L392.41,253.80 L392.92,253.81 L393.42,253.82 L393.93,253.83 L394.43,253.84 L394.94,253.85 L395.45,253.86 L395.95,253.87 L396.46,253.88 L396.96,253.89 L397.47,253.90 L397.98,253.91 L398.48,253.92 L398.99,253.93 L399.49,253.94 L400.00,253.95 L400.50,253.96 L401.01,253.97 L401.51,253.98 L402.02,253.99 L402.52,254.00 L403.03,254.01 L403.53,254.01 L404.04,254.02 L404.54,254.03 L405.05,254.04 L405.55,254.05 L406.06,254.06 L406.56,254.06 L407.07,254.07 L407.57,254.08 L408.08,254.09 L408.58,254.10 L409.09,254.10 L409.59,254.11 L410.09,254.12 L410.60,254.12 L411.10,254.13 L411.61,254.14 L412.11,254.15 L412.61,254.15 L413.12,254.16 L413.62,254.17 L414.12,254.17 L414.63,254.18 L415.13,254.19 L415.63,254.19 L416.14,254.20 L416.64,254.20 L417.14,254.21 L417.65,254.21 L418.15,254.22" stroke="#ff00ff" stroke-dasharray="1.567 2.350" stroke-dashoffset="0.00"/>
</g>
<rect x="153.7" y="21.5" width="283.5" height="97.7" fill="#fff" stroke="#000" stroke-width="1.2"/>
<path d="M380.8,33.4 H426.8" stroke="#ff0000" stroke-width="2"/>
<path d="M380.8,58.3 H426.8" stroke="#00ff00" stroke-width="2" stroke-dasharray="6.6 3.3"/>
<path d="M380.8,83.0 H426.8" stroke="#0000ff" stroke-width="2" stroke-dasharray="3.3 4.95"/>
<path d="M380.8,107.4 H426.0" stroke="#ff00ff" stroke-width="2" stroke-dasharray="1.65 2.475"/>
<g font-family="Liberation Sans, sans-serif" font-size="16.5" fill="#000">
<text transform="translate(100.0,288.7) scale(1.06,1)" text-anchor="middle">0.5</text>
<text transform="translate(138.8,288.7) scale(1.06,1)" text-anchor="middle">1</text>
<text transform="translate(177.6,288.7) scale(1.06,1)" text-anchor="middle">1.5</text>
<text transform="translate(216.3,288.7) scale(1.06,1)" text-anchor="middle">2</text>
<text transform="translate(255.1,288.7) scale(1.06,1)" text-anchor="middle">2.5</text>
<text transform="translate(293.9,288.7) scale(1.06,1)" text-anchor="middle">3</text>
<text transform="translate(332.7,288.7) scale(1.06,1)" text-anchor="middle">3.5</text>
<text transform="translate(371.4,288.7) scale(1.06,1)" text-anchor="middle">4</text>
<text transform="translate(410.2,288.7) scale(1.06,1)" text-anchor="middle">4.5</text>
<text transform="translate(449.0,288.7) scale(1.06,1)" text-anchor="middle">5</text>
<text transform="translate(87.8,272.2) scale(1.06,1)" text-anchor="end">0</text>
<text transform="translate(87.8,209.9) scale(1.06,1)" text-anchor="end">0.05</text>
<text transform="translate(87.8,147.7) scale(1.06,1)" text-anchor="end">0.1</text>
<text transform="translate(87.8,85.4) scale(1.06,1)" text-anchor="end">0.15</text>
<text transform="translate(87.8,23.1) scale(1.06,1)" text-anchor="end">0.2</text>
<text transform="translate(183.19,37.90) scale(1.020,1)" font-family="Liberation Serif, serif" font-size="18" xml:space="preserve">Φ</text>
<text transform="translate(196.61,42.80) scale(1.060,1)" font-family="Liberation Sans, sans-serif" font-size="13" xml:space="preserve">0</text>
<text transform="translate(204.28,38.20) scale(1.045,1)" font-family="Liberation Sans, sans-serif" font-size="16.5" xml:space="preserve"> = 0.0 e</text>
<text transform="translate(262.28,42.80) scale(1.060,1)" font-family="Liberation Sans, sans-serif" font-size="13" xml:space="preserve">0</text>
<text transform="translate(269.94,38.20) scale(1.060,1)" font-family="Liberation Sans, sans-serif" font-size="16.5" xml:space="preserve">;</text>
<text transform="translate(283.35,38.20) scale(1.187,1)" font-family="Liberation Serif, serif" font-size="16.5" xml:space="preserve">η</text>
<text transform="translate(293.60,38.20) scale(1.060,1)" font-family="Liberation Sans, sans-serif" font-size="16.5" xml:space="preserve">/s = 0.127</text>
<text transform="translate(165.56,63.50) scale(1.045,1)" font-family="Liberation Sans, sans-serif" font-size="16.5" xml:space="preserve">1-st O. theory;</text>
<text transform="translate(283.35,63.50) scale(1.187,1)" font-family="Liberation Serif, serif" font-size="16.5" xml:space="preserve">η</text>
<text transform="translate(293.60,63.50) scale(1.060,1)" font-family="Liberation Sans, sans-serif" font-size="16.5" xml:space="preserve">/s = 0.066</text>
<text transform="translate(158.89,87.70) scale(1.020,1)" font-family="Liberation Serif, serif" font-size="18" xml:space="preserve">Φ</text>
<text transform="translate(173.31,79.00) scale(1.060,1)" font-family="Liberation Sans, sans-serif" font-size="10" xml:space="preserve">*</text>
<text transform="translate(177.43,92.60) scale(1.060,1)" font-family="Liberation Sans, sans-serif" font-size="13" xml:space="preserve">0</text>
<text transform="translate(185.10,88.00) scale(1.045,1)" font-family="Liberation Sans, sans-serif" font-size="16.5" xml:space="preserve"> = 0.096 e</text>
<text transform="translate(262.28,92.60) scale(1.060,1)" font-family="Liberation Sans, sans-serif" font-size="13" xml:space="preserve">0</text>
<text transform="translate(269.94,88.00) scale(1.060,1)" font-family="Liberation Sans, sans-serif" font-size="16.5" xml:space="preserve">;</text>
<text transform="translate(283.35,88.00) scale(1.187,1)" font-family="Liberation Serif, serif" font-size="16.5" xml:space="preserve">η</text>
<text transform="translate(293.60,88.00) scale(1.060,1)" font-family="Liberation Sans, sans-serif" font-size="16.5" xml:space="preserve">/s = 0.066</text>
<text transform="translate(183.19,111.50) scale(1.020,1)" font-family="Liberation Serif, serif" font-size="18" xml:space="preserve">Φ</text>
<text transform="translate(196.61,116.40) scale(1.060,1)" font-family="Liberation Sans, sans-serif" font-size="13" xml:space="preserve">0</text>
<text transform="translate(204.28,111.80) scale(1.045,1)" font-family="Liberation Sans, sans-serif" font-size="16.5" xml:space="preserve"> = 0.2 e</text>
<text transform="translate(262.28,116.40) scale(1.060,1)" font-family="Liberation Sans, sans-serif" font-size="13" xml:space="preserve">0</text>
<text transform="translate(269.94,111.80) scale(1.060,1)" font-family="Liberation Sans, sans-serif" font-size="16.5" xml:space="preserve">;</text>
<text transform="translate(283.35,111.80) scale(1.187,1)" font-family="Liberation Serif, serif" font-size="16.5" xml:space="preserve">η</text>
<text transform="translate(293.60,111.80) scale(1.060,1)" font-family="Liberation Sans, sans-serif" font-size="16.5" xml:space="preserve">/s = 0.023</text>
</g>
<text transform="translate(237.0,314.7) scale(1.3,1)" font-family="Liberation Serif, serif" font-size="22.5">τ</text>
<text transform="translate(253.9,314.7) scale(1.03,1)" font-family="Liberation Serif, serif" font-size="22.5">(fm/c)</text>
<text transform="translate(29,158) scale(1.05,1) rotate(-90)" font-family="Liberation Serif, serif" font-size="24">R<tspan font-size="17.5" dy="-12.7">-1</tspan></text>
</svg>
</body></html>
